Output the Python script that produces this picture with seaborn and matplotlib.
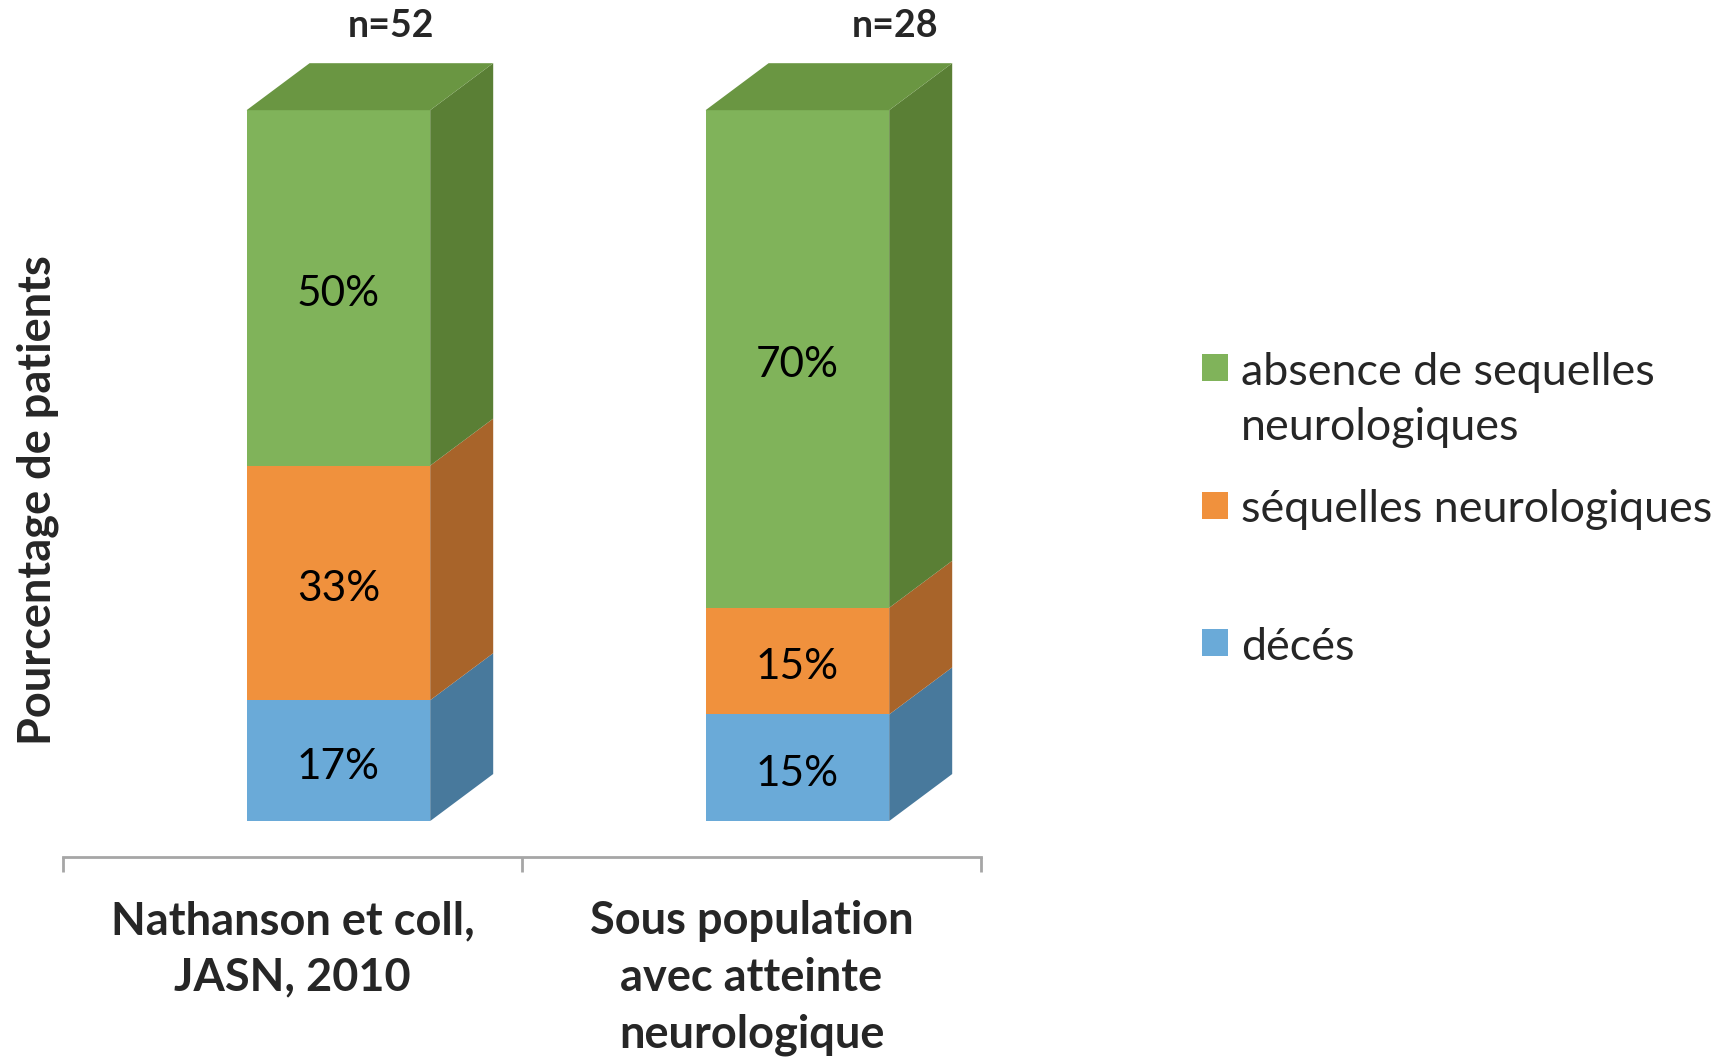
import matplotlib
matplotlib.use("Agg")
import matplotlib.pyplot as plt
from matplotlib.patches import Polygon, Rectangle
import seaborn as sns

# ---- data ----
categories = ["Nathanson et coll,\nJASN, 2010", "Sous population\navec atteinte\nneurologique"]
deces = [17, 15]
sequelles = [33, 15]
absence = [50, 70]
n_labels = ["n=52", "n=28"]
series_names = ["absence de sequelles\nneurologiques", "séquelles neurologiques", "décés"]

# ---- style ----
sns.set_style("white")
plt.rcParams["font.family"] = ["Lato", "DejaVu Sans"]

front = {"blue": "#6AAAD8", "orange": "#F0913D", "green": "#80B35A"}
side = {"blue": "#48799C", "orange": "#A8642A", "green": "#5A7F35"}
top_col = "#6A9642"

W, H = 1722, 1057
fig = plt.figure(figsize=(W / 100, H / 100), dpi=100)
ax = fig.add_axes([63 / W, 200 / H, (981 - 63) / W, 857 / H])

bar_w = 0.4
cum1 = [d for d in deces]
cum2 = [d + s for d, s in zip(deces, sequelles)]
cum3 = [d + s + a for d, s, a in zip(deces, sequelles, absence)]

for vals, key in [(cum3, "green"), (cum2, "orange"), (cum1, "blue")]:
    sns.barplot(x=categories, y=vals, color=front[key], saturation=1,
                width=bar_w, linewidth=0, ax=ax)

ax.set_xlim(-0.6, 1.4)
ax.set_ylim(-5.06, 115.5)

# 3D depth faces computed from the data
dx = 63 / 459
dy = 47 / 7.11
for i in range(len(categories)):
    xr = i + bar_w / 2
    xl = i - bar_w / 2
    segs = [(0, cum1[i], "blue"), (cum1[i], cum2[i], "orange"), (cum2[i], cum3[i], "green")]
    for b, t, key in segs:
        ax.add_patch(Polygon([(xr, b), (xr + dx, b + dy), (xr + dx, t + dy), (xr, t)],
                             closed=True, facecolor=side[key], edgecolor="none", zorder=1))
    T = cum3[i]
    ax.add_patch(Polygon([(xl, T), (xl + dx, T + dy), (xr + dx, T + dy), (xr, T)],
                         closed=True, facecolor=top_col, edgecolor="none", zorder=1))
    # value labels
    for b, t, v in [(0, cum1[i], deces[i]), (cum1[i], cum2[i], sequelles[i]),
                    (cum2[i], cum3[i], absence[i])]:
        ax.text(i, (b + t) / 2 - 0.9, f"{v}%", ha="center", va="center",
                fontsize=30.5, color="black", zorder=5)

# n labels
n_offsets = [0.115, 0.212]
for i, lab in enumerate(n_labels):
    ax.text(i + n_offsets[i], 111.9, lab, ha="center", va="center",
            fontsize=27, fontweight="bold", clip_on=False)

# axes styling
for s in ["left", "right", "top"]:
    ax.spines[s].set_visible(False)
ax.spines["bottom"].set_color("#A6A6A6")
ax.spines["bottom"].set_linewidth(2)
ax.set_yticks([])
bounds = [-0.6, 0.4, 1.4]
centers = [-0.1, 0.9]
ax.set_xticks(bounds, ["", "", ""])
ax.set_xticks(centers, categories, minor=True)
ax.tick_params(axis="x", which="major", bottom=True, length=11, width=2,
               color="#A6A6A6", direction="out")
ax.tick_params(axis="x", which="minor", bottom=True, length=0, pad=31)
for lab in ax.get_xticklabels(minor=True):
    lab.set_fontsize(32.5)
    lab.set_fontweight("bold")
    lab.set_linespacing(1.43)
ax.set_xlabel("")

ax.set_ylabel("Pourcentage de patients", fontsize=32.5, fontweight="bold", va="center")
ax.yaxis.set_label_coords(-0.028, 0.4166)

# legend (drawn manually so the square aligns with the first text line)
leg_colors = [front["green"], front["orange"], front["blue"]]
sq_tops = [354, 492, 629]
baselines = [385, 522, 660]   # baseline of the first line of each entry
pitch = 55
for col, sqt, bl, name in zip(leg_colors, sq_tops, baselines, series_names):
    fig.add_artist(Rectangle((1202 / W, 1 - (sqt + 27) / H), 26 / W, 27 / H,
                             transform=fig.transFigure, facecolor=col, edgecolor="none"))
    nlines = name.count("\n")
    fig.text(1241 / W, 1 - (bl + nlines * pitch) / H, name, ha="left", va="baseline",
             fontsize=32.3, linespacing=1.43)

fig.savefig("out.png", dpi=100)
